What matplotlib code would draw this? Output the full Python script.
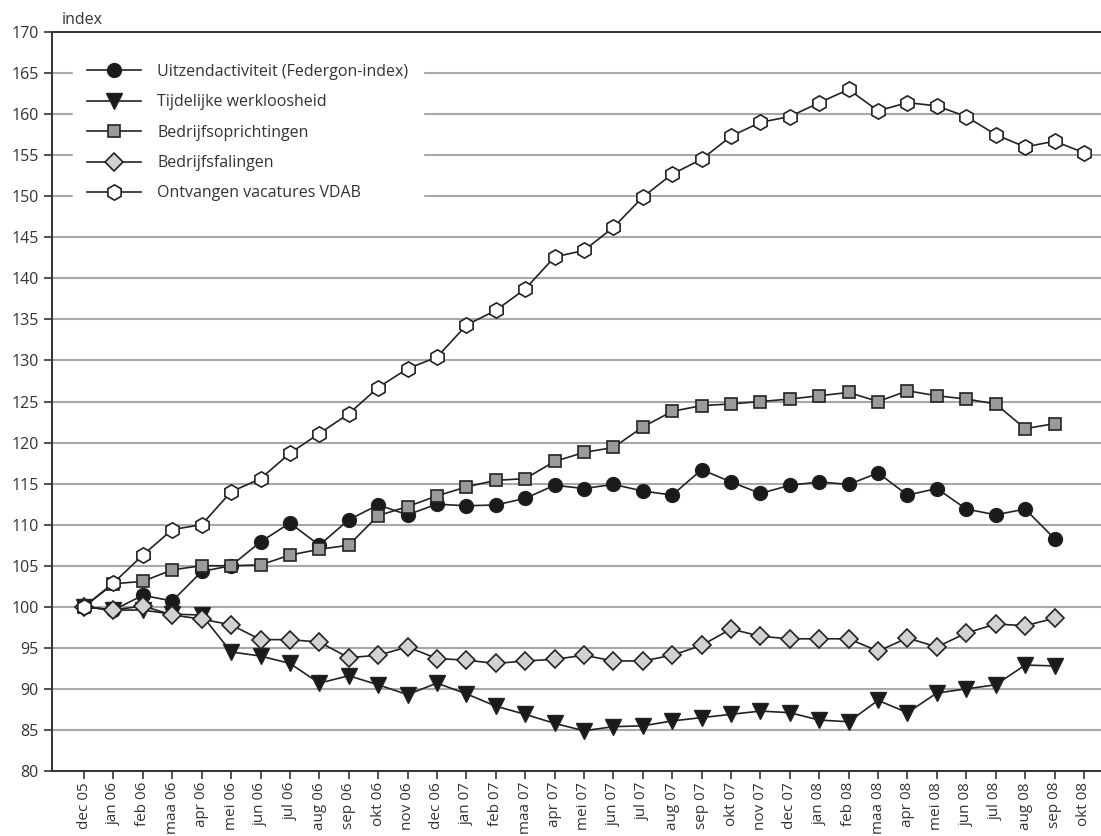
import numpy as np
import matplotlib.pyplot as plt

plt.rcParams['font.family'] = ['Open Sans', 'DejaVu Sans']

# months dec 05 .. okt 08
months = ["dec 05",
          "jan 06", "feb 06", "maa 06", "apr 06", "mei 06", "jun 06", "jul 06", "aug 06", "sep 06", "okt 06", "nov 06", "dec 06",
          "jan 07", "feb 07", "maa 07", "apr 07", "mei 07", "jun 07", "jul 07", "aug 07", "sep 07", "okt 07", "nov 07", "dec 07",
          "jan 08", "feb 08", "maa 08", "apr 08", "mei 08", "jun 08", "jul 08", "aug 08", "sep 08", "okt 08"]

uitzend = [100, 99.6, 101.4, 100.7, 104.3, 105.0, 107.9, 110.2, 107.5, 110.6, 112.4, 111.2, 112.5,
           112.3, 112.4, 113.2, 114.8, 114.4, 114.9, 114.1, 113.6, 116.7, 115.2, 113.8, 114.8,
           115.2, 114.9, 116.3, 113.6, 114.4, 111.9, 111.2, 111.9, 108.3]
tijdelijk = [100, 99.6, 99.6, 99.1, 99.0, 94.5, 94.0, 93.1, 90.7, 91.6, 90.5, 89.3, 90.7,
             89.4, 87.9, 86.9, 85.8, 84.9, 85.4, 85.5, 86.1, 86.5, 86.9, 87.3, 87.1,
             86.2, 86.0, 88.6, 87.1, 89.5, 90.0, 90.5, 92.9, 92.8]
oprichtingen = [100, 102.8, 103.1, 104.5, 105.0, 105.0, 105.1, 106.3, 107.0, 107.5, 111.1, 112.2, 113.5,
                114.6, 115.4, 115.6, 117.7, 118.8, 119.4, 121.9, 123.8, 124.5, 124.7, 125.0, 125.3,
                125.7, 126.1, 125.0, 126.3, 125.7, 125.3, 124.7, 121.7, 122.3]
falingen = [100, 99.6, 100.1, 99.0, 98.5, 97.8, 96.0, 96.0, 95.7, 93.8, 94.1, 95.1, 93.7,
            93.5, 93.1, 93.4, 93.6, 94.1, 93.4, 93.4, 94.1, 95.3, 97.3, 96.4, 96.1,
            96.1, 96.1, 94.6, 96.2, 95.1, 96.8, 97.9, 97.7, 98.6]
vacatures = [100, 102.9, 106.3, 109.4, 110.0, 114.0, 115.6, 118.7, 121.1, 123.5, 126.7, 129.0, 130.4,
             134.3, 136.1, 138.7, 142.6, 143.4, 146.2, 149.9, 152.7, 154.5, 157.3, 159.0, 159.7,
             161.4, 163.0, 160.4, 161.4, 161.0, 159.7, 157.5, 156.0, 156.7, 155.3]

fig = plt.figure(figsize=(11.01, 8.36), dpi=100)
ax = fig.add_axes([52/1101, 1 - 771/836, 1 - 52/1101, (771 - 32)/836])

lc = '#222222'
ec = '#222222'
fs = 11.5
ax.plot(range(len(uitzend)), uitzend, color=lc, lw=1.2, marker='o', ms=10,
        mfc='#1a1a1a', mec=ec, label='Uitzendactiviteit (Federgon-index)')
ax.plot(range(len(tijdelijk)), tijdelijk, color=lc, lw=1.2, marker='v', ms=11,
        mfc='#1a1a1a', mec=ec, label='Tijdelijke werkloosheid')
ax.plot(range(len(oprichtingen)), oprichtingen, color=lc, lw=1.2, marker='s', ms=9,
        mfc='#9a9a9a', mec=ec, mew=1.2, label='Bedrijfsoprichtingen')
ax.plot(range(len(falingen)), falingen, color=lc, lw=1.2, marker='D', ms=9,
        mfc='#d2d2d2', mec=ec, mew=1.2, label='Bedrijfsfalingen')
ax.plot(range(len(vacatures)), vacatures, color=lc, lw=1.2, marker='h', ms=11,
        mfc='white', mec=ec, mew=1.2, label='Ontvangen vacatures VDAB')

ax.set_ylim(80, 170)
ax.set_xlim(-1.09, 34.58)
ax.set_yticks(np.arange(80, 171, 5))
ax.set_xticks(range(len(months)))
ax.set_xticklabels(months, rotation=90)
ax.yaxis.grid(True, color='#a8a8a8', lw=1.5)
ax.set_axisbelow(True)

ax.spines['right'].set_visible(False)
for s in ['left', 'top', 'bottom']:
    ax.spines[s].set_color('#333333')
    ax.spines[s].set_linewidth(1.4)
ax.tick_params(axis='both', colors='#333333', labelsize=fs, length=6, width=1.2)
ax.tick_params(axis='x', pad=2, labelsize=11)

ax.text(0.0095, 1.006, 'index', transform=ax.transAxes, fontsize=fs, color='#333333',
        ha='left', va='bottom')

leg = ax.legend(loc='upper left', bbox_to_anchor=(0.012, 0.987), frameon=True, fontsize=fs,
                handlelength=3.4, labelspacing=0.9, borderpad=0.9, handletextpad=1.0,
                fancybox=False, edgecolor='white', framealpha=1)
for t in leg.get_texts():
    t.set_color('#333333')

fig.savefig('out.png', dpi=100)
